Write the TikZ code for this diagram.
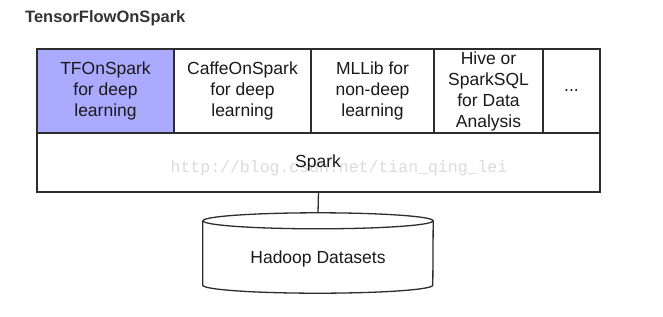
\documentclass[tikz,border=0pt]{standalone}
\usepackage{fontspec}
\setmainfont{Liberation Sans}
\newfontfamily\markfont{Liberation Mono}
\usetikzlibrary{positioning}
\definecolor{tfblue}{RGB}{170,170,255}
\definecolor{edgegray}{RGB}{45,45,45}
\definecolor{titlegray}{RGB}{51,51,51}
\begin{document}
\begin{tikzpicture}[
        x=1pt, y=-1pt,
        font=\fontsize{17.5}{21}\selectfont,
        cell/.style={draw=edgegray, line width=1.3pt, fill=white, align=center, minimum height=84pt, inner sep=0pt, outer sep=0pt, text=black!90, execute at begin node={\vspace*{4pt}}},
        ln/.style={draw=edgegray, line width=1.3pt}
    ]
        \useasboundingbox (0,0) rectangle (663,316);

        \node[font=\fontsize{16.5}{20}\selectfont\bfseries, text=titlegray, anchor=west, inner sep=0pt] (title) at (25,18) {TensorFlowOnSpark};

        \node[cell, fill=tfblue, minimum width=137pt, anchor=north west] (tf) at (37,49) {TFOnSpark\\for deep\\learning};
        \node[cell, minimum width=137pt, right=0pt of tf]  (caffe) {CaffeOnSpark\\for deep\\learning};
        \node[cell, minimum width=123pt, right=0pt of caffe] (mllib) {MLLib for\\non-deep\\learning};
        \node[cell, minimum width=109pt, right=0pt of mllib] (hive)  {Hive or\\SparkSQL\\for Data\\Analysis};
        \node[cell, minimum width=57pt,  right=0pt of hive]  (more)  {...};

        \node[cell, minimum width=563pt, minimum height=59pt, anchor=north west] (spark) at (tf.south west) {};
        \node[font=\markfont\fontsize{16.5}{20}\selectfont, text=black!14] (mark) at (339,168) {http://blog.csdn.net/tian\_qing\_lei};
        \node[text=black!90] (sparktxt) at (318,163) {Spark};

        \node[minimum width=230pt, minimum height=80pt, inner sep=0pt] (hadoop) at (318,253) {};
        \draw[ln, fill=white] ([yshift=-8pt]hadoop.north west) -- ([yshift=8pt]hadoop.south west)
            arc[start angle=180, end angle=360, x radius=115pt, y radius=8pt] -- ([yshift=-8pt]hadoop.north east);
        \draw[ln] ([yshift=-8pt]hadoop.north) ellipse[x radius=115pt, y radius=8pt];
        \node[text=black!90] at ([yshift=-6pt]hadoop.center) {Hadoop Datasets};

        \draw[ln] (spark.south) -- (hadoop.north);
    \end{tikzpicture}
\end{document}
